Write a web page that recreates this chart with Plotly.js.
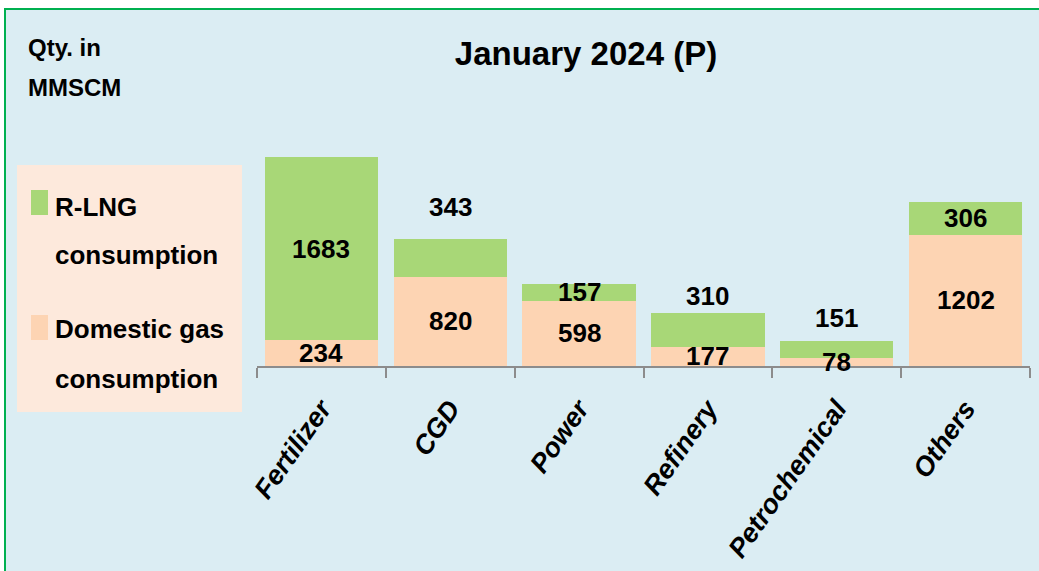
<!DOCTYPE html>
<html>
<head>
<meta charset="utf-8">
<script src="https://cdn.plot.ly/plotly-3.0.1.min.js"></script>
<style>
    html, body { margin: 0; padding: 0; background: #ffffff; }
    #panel {
        position: absolute; left: 4px; top: 8px; width: 1040px; height: 570px;
        background: #dbedf3; border-left: 2px solid #00b050; border-top: 2px solid #00b050;
    }
    #chart { position: absolute; left: 0; top: 0; width: 1039px; height: 571px; }
</style>
</head>
<body>
<div id="panel"></div>
<div id="chart"></div>
<script>
// Sector-wise gas consumption, January 2024 (P), Qty. in MMSCM
const sectors = ['Fertilizer', 'CGD', 'Power', 'Refinery', 'Petrochemical', 'Others'];
const domesticGas = [234, 820, 598, 177, 78, 1202];
const rlng = [1683, 343, 157, 310, 151, 306];

const FONT = "'Liberation Sans', Arial, sans-serif";
const GREEN = '#a8d777';
const PEACH = '#fdd4b3';

// where the R-LNG value sits: inside the green block or just above the bar
const rlngAbove = [false, true, false, true, true, false];
const aboveShift = [0, 15, 0, 0, 6, 0];

const data = [
    {
        x: sectors, y: domesticGas, type: 'bar', name: 'Domestic gas consumption',
        marker: { color: PEACH }, hoverinfo: 'x+y'
    },
    {
        x: sectors, y: rlng, type: 'bar', name: 'R-LNG consumption',
        marker: { color: GREEN }, hoverinfo: 'x+y'
    }
];

const labelFont = { family: FONT, size: 26, color: '#000000', weight: 'bold' };
const annotations = [];
sectors.forEach((s, i) => {
    annotations.push({
        x: s, y: domesticGas[i] / 2, xref: 'x', yref: 'y',
        text: String(domesticGas[i]), showarrow: false, font: labelFont
    });
    const total = domesticGas[i] + rlng[i];
    if (rlngAbove[i]) {
        annotations.push({
            x: s, y: total, xref: 'x', yref: 'y', yanchor: 'bottom', yshift: aboveShift[i],
            text: String(rlng[i]), showarrow: false, font: labelFont
        });
    } else {
        annotations.push({
            x: s, y: domesticGas[i] + rlng[i] / 2, xref: 'x', yref: 'y',
            text: String(rlng[i]), showarrow: false, font: labelFont
        });
    }
});

// unit note and the hand-made legend box (pixel positions -> paper coords)
const PW = 1039 - 257 - 9, PH = 571 - 100 - 205;
const px = v => (v - 257) / PW;
const py = v => (571 - 205 - v) / PH;

function note(x, y, text, size) {
    annotations.push({
        xref: 'paper', yref: 'paper', x: px(x), y: py(y), xanchor: 'left', yanchor: 'middle',
        align: 'left', showarrow: false, text: text,
        font: { family: FONT, size: size, color: '#000000', weight: 'bold' }
    });
}
note(26, 48, 'Qty. in', 24);
note(26, 88, 'MMSCM', 24);
note(53, 207, 'R-LNG', 26);
note(53, 255, 'consumption', 26);
note(53, 329, 'Domestic gas', 26);
note(53, 379, 'consumption', 26);

const shapes = [
    { type: 'rect', xref: 'paper', yref: 'paper', x0: px(17), x1: px(242), y0: py(412), y1: py(165),
      fillcolor: '#fde9dc', line: { width: 0 }, layer: 'below' },
    { type: 'rect', xref: 'paper', yref: 'paper', x0: px(31), x1: px(48), y0: py(215), y1: py(190),
      fillcolor: GREEN, line: { width: 0 } },
    { type: 'rect', xref: 'paper', yref: 'paper', x0: px(31), x1: px(48), y0: py(340), y1: py(315),
      fillcolor: PEACH, line: { width: 0 } }
];

const layout = {
    width: 1039, height: 571,
    margin: { l: 257, r: 9, t: 100, b: 205 },
    barmode: 'stack',
    bargap: 0.12,
    showlegend: false,
    paper_bgcolor: 'rgba(0,0,0,0)',
    plot_bgcolor: 'rgba(0,0,0,0)',
    title: {
        text: 'January 2024 (P)', x: 586 / 1039, xanchor: 'center', y: 1 - 53 / 571, yanchor: 'middle',
        font: { family: FONT, size: 33, color: '#000000', weight: 'bold' }
    },
    xaxis: {
        type: 'category', showline: true, linecolor: '#8c8c8c', linewidth: 2,
        ticks: 'outside', tickson: 'boundaries', ticklen: 10, tickcolor: '#8c8c8c', tickwidth: 2,
        tickangle: -55, ticklabelstandoff: 14,
        tickfont: { family: FONT, size: 27, color: '#000000', style: 'italic', weight: 'bold' },
        showgrid: false, zeroline: false, fixedrange: true
    },
    yaxis: {
        range: [0, 2440], visible: false, showgrid: false, zeroline: false, fixedrange: true
    },
    annotations: annotations,
    shapes: shapes,
    font: { family: FONT }
};

Plotly.newPlot('chart', data, layout, { displayModeBar: false, staticPlot: true });
</script>
</body>
</html>
